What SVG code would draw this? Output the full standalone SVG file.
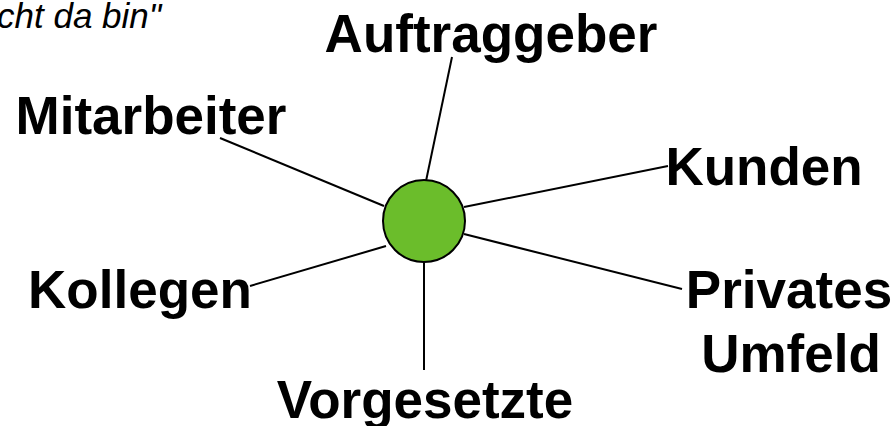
<svg xmlns="http://www.w3.org/2000/svg" width="895" height="426" viewBox="0 0 895 426">
<style>
.lbl{font-family:"Liberation Sans",Arial,sans-serif;font-weight:bold;font-size:53px;fill:#000;text-anchor:middle}
.conn line{stroke:#000;stroke-width:2}
.quote{font-family:"Liberation Sans",Arial,sans-serif;font-style:italic;font-size:35px;fill:#000}
</style>
<rect width="895" height="426" fill="#fff"/>
<text class="quote" x="-3" y="28">cht da bin"</text>
<g id="connectors" class="conn">
<line x1="426" y1="181" x2="452" y2="57"/>
<line x1="384" y1="206" x2="220" y2="138"/>
<line x1="464" y1="207" x2="668" y2="166"/>
<line x1="464" y1="234" x2="682" y2="289"/>
<line x1="386" y1="246" x2="250" y2="286"/>
<line x1="424" y1="261" x2="424" y2="370"/>
</g>
<g id="center"><circle cx="424" cy="221" r="41" fill="#6bbd2b" stroke="#000" stroke-width="2"/></g>
<g id="auftraggeber"><text class="lbl" x="491" y="52">Auftraggeber</text></g>
<g id="mitarbeiter"><text class="lbl" x="151" y="134">Mitarbeiter</text></g>
<g id="kunden"><text class="lbl" x="764" y="185">Kunden</text></g>
<g id="privates"><text class="lbl" x="789" y="308">Privates</text><text class="lbl" x="791" y="372">Umfeld</text></g>
<g id="kollegen"><text class="lbl" x="140" y="308">Kollegen</text></g>
<g id="vorgesetzte"><text class="lbl" x="425" y="418">Vorgesetzte</text></g>
</svg>
